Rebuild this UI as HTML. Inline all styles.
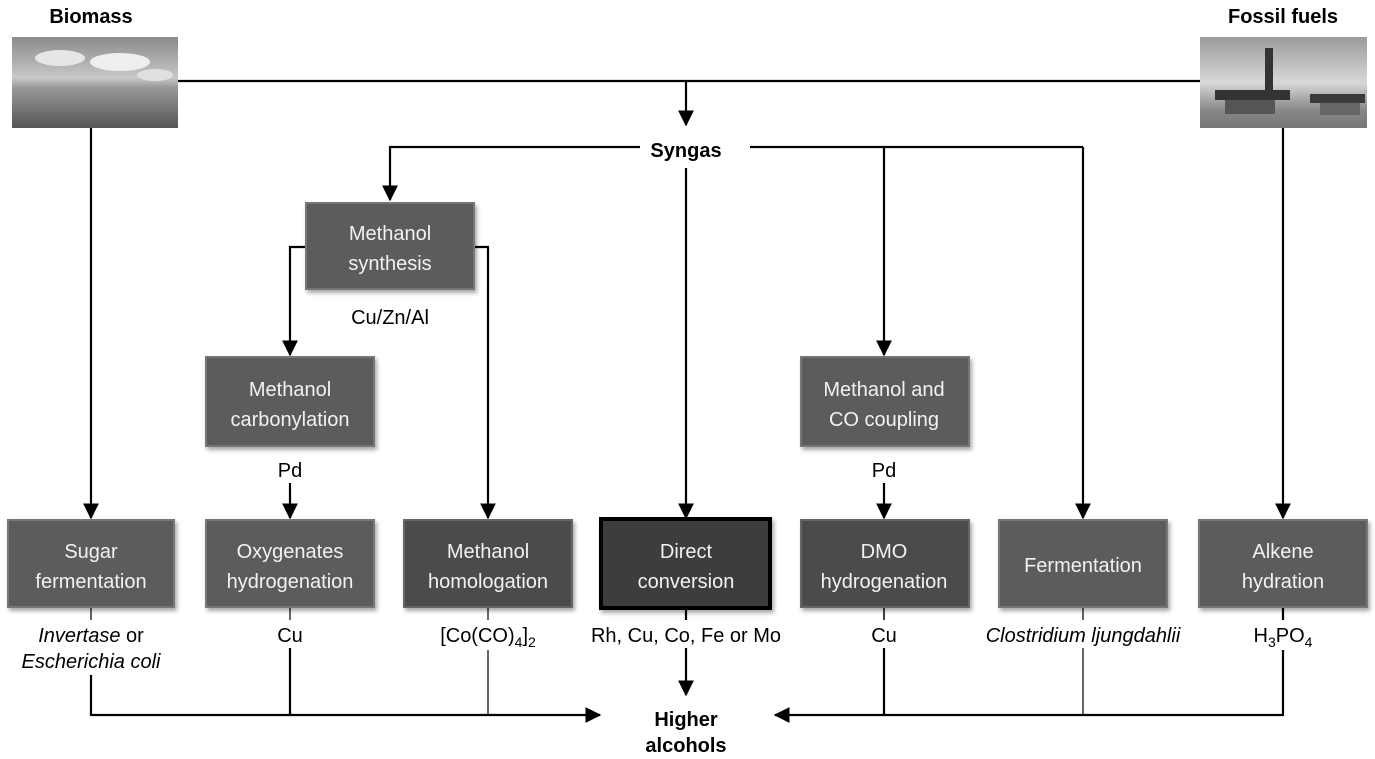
<!DOCTYPE html>
<html><head><meta charset="utf-8"><style>
html,body{margin:0;padding:0;background:#fff;}
svg{display:block;font-family:"Liberation Sans",Arial,sans-serif;}
</style></head><body>
<svg width="1375" height="759" viewBox="0 0 1375 759" xmlns="http://www.w3.org/2000/svg">
<defs>
<marker id="a" viewBox="0 0 12 12" markerWidth="16" markerHeight="16" refX="11" refY="6" orient="auto" markerUnits="userSpaceOnUse"><path d="M0,0 L12,6 L0,12 z" fill="#000"/></marker>
<linearGradient id="sky" x1="0" y1="0" x2="0" y2="1">
<stop offset="0" stop-color="#8a8a8a"/><stop offset="0.45" stop-color="#c8c8c8"/><stop offset="0.55" stop-color="#9a9a9a"/><stop offset="1" stop-color="#555"/></linearGradient>
<linearGradient id="sea" x1="0" y1="0" x2="0" y2="1">
<stop offset="0" stop-color="#9a9a9a"/><stop offset="0.5" stop-color="#d8d8d8"/><stop offset="0.8" stop-color="#888"/><stop offset="1" stop-color="#777"/></linearGradient>
<filter id="sh"><feDropShadow dx="2" dy="3" stdDeviation="2" flood-color="#000" flood-opacity="0.35"/></filter>
</defs>

<rect x="12" y="37" width="166" height="91" fill="url(#sky)"/>
<ellipse cx="60" cy="58" rx="25" ry="8" fill="#e6e6e6"/>
<ellipse cx="120" cy="62" rx="30" ry="9" fill="#eee"/>
<ellipse cx="155" cy="75" rx="18" ry="6" fill="#e0e0e0"/>
<rect x="1200" y="37" width="167" height="91" fill="url(#sea)"/>
<rect x="1215" y="90" width="75" height="10" fill="#333"/>
<rect x="1265" y="48" width="8" height="45" fill="#333"/>
<rect x="1225" y="100" width="50" height="14" fill="#555"/>
<rect x="1310" y="94" width="55" height="9" fill="#3a3a3a"/>
<rect x="1320" y="103" width="40" height="12" fill="#666"/>

<g font-weight="bold" font-size="20" text-anchor="middle" fill="#000">
<text x="91" y="23">Biomass</text>
<text x="1283" y="23">Fossil fuels</text>
<text x="686" y="157">Syngas</text>
<text x="686" y="726">Higher</text>
<text x="686" y="752">alcohols</text>
</g>

<g stroke="#000" stroke-width="2.2" fill="none">
<line x1="178" y1="81" x2="1200" y2="81"/>
<line x1="686" y1="81" x2="686" y2="125" marker-end="url(#a)"/>
<polyline points="640,147 390,147 390,200" marker-end="url(#a)"/>
<line x1="750" y1="147" x2="1083" y2="147"/>
<line x1="686" y1="168" x2="686" y2="518" marker-end="url(#a)"/>
<line x1="884" y1="147" x2="884" y2="355" marker-end="url(#a)"/>
<line x1="1083" y1="147" x2="1083" y2="518" marker-end="url(#a)"/>
<line x1="91" y1="128" x2="91" y2="518" marker-end="url(#a)"/>
<line x1="1283" y1="128" x2="1283" y2="518" marker-end="url(#a)"/>
<polyline points="306,247 290,247 290,355" marker-end="url(#a)"/>
<polyline points="474,247 488,247 488,518" marker-end="url(#a)"/>
<line x1="290" y1="483" x2="290" y2="518" marker-end="url(#a)"/>
<line x1="884" y1="483" x2="884" y2="518" marker-end="url(#a)"/>
<line x1="686" y1="607" x2="686" y2="620"/>
<line x1="686" y1="648" x2="686" y2="695" marker-end="url(#a)"/>
<polyline points="91,675 91,715 600,715" marker-end="url(#a)"/>
<line x1="290" y1="648" x2="290" y2="715"/>
<line x1="488" y1="607" x2="488" y2="620" stroke-width="1.2"/>
<line x1="488" y1="650" x2="488" y2="715" stroke-width="1.2"/>
<polyline points="1283,650 1283,715 775,715" marker-end="url(#a)"/>
<line x1="884" y1="607" x2="884" y2="620" stroke-width="1.5"/>
<line x1="884" y1="648" x2="884" y2="715"/>
<line x1="1083" y1="607" x2="1083" y2="620" stroke-width="1.2"/>
<line x1="1083" y1="648" x2="1083" y2="715" stroke-width="1.2"/>
<line x1="1283" y1="607" x2="1283" y2="620"/>
<line x1="91" y1="607" x2="91" y2="620" stroke-width="1.2"/>
<line x1="290" y1="607" x2="290" y2="620" stroke-width="1.2"/>
</g>

<g filter="url(#sh)">
<rect x="306" y="203" width="168" height="86" fill="#5c5c5c" stroke="#777" stroke-width="2"/>
<rect x="206" y="357" width="168" height="89" fill="#5c5c5c" stroke="#777" stroke-width="2"/>
<rect x="801" y="357" width="168" height="89" fill="#5c5c5c" stroke="#777" stroke-width="2"/>
<rect x="8" y="520" width="166" height="87" fill="#5c5c5c" stroke="#777" stroke-width="2"/>
<rect x="206" y="520" width="168" height="87" fill="#5c5c5c" stroke="#777" stroke-width="2"/>
<rect x="404" y="520" width="168" height="87" fill="#4c4c4c" stroke="#666" stroke-width="2"/>
<rect x="601" y="519" width="169" height="89" fill="#3e3e3e" stroke="#000" stroke-width="4"/>
<rect x="801" y="520" width="168" height="87" fill="#4c4c4c" stroke="#666" stroke-width="2"/>
<rect x="999" y="520" width="168" height="87" fill="#5c5c5c" stroke="#777" stroke-width="2"/>
<rect x="1199" y="520" width="168" height="87" fill="#5c5c5c" stroke="#777" stroke-width="2"/>
</g>

<g fill="#f2f2f2" font-size="20" text-anchor="middle">
<text x="390" y="240">Methanol</text><text x="390" y="270">synthesis</text>
<text x="290" y="396">Methanol</text><text x="290" y="426">carbonylation</text>
<text x="884" y="396">Methanol and</text><text x="884" y="426">CO coupling</text>
<text x="91" y="558">Sugar</text><text x="91" y="588">fermentation</text>
<text x="290" y="558">Oxygenates</text><text x="290" y="588">hydrogenation</text>
<text x="488" y="558">Methanol</text><text x="488" y="588">homologation</text>
<text x="686" y="558">Direct</text><text x="686" y="588">conversion</text>
<text x="884" y="558">DMO</text><text x="884" y="588">hydrogenation</text>
<text x="1083" y="572">Fermentation</text>
<text x="1283" y="558">Alkene</text><text x="1283" y="588">hydration</text>
</g>

<g fill="#000" font-size="20" text-anchor="middle">
<text x="390" y="324">Cu/Zn/Al</text>
<text x="290" y="477">Pd</text>
<text x="884" y="477">Pd</text>
<text x="91" y="642"><tspan font-style="italic">Invertase</tspan> or</text>
<text x="91" y="668" font-style="italic">Escherichia coli</text>
<text x="290" y="642">Cu</text>
<text x="488" y="642">[Co(CO)<tspan font-size="14" dy="5">4</tspan><tspan dy="-5">]</tspan><tspan font-size="14" dy="5">2</tspan></text>
<text x="686" y="642">Rh, Cu, Co, Fe or Mo</text>
<text x="884" y="642">Cu</text>
<text x="1083" y="642" font-style="italic">Clostridium ljungdahlii</text>
<text x="1283" y="642">H<tspan font-size="14" dy="5">3</tspan><tspan dy="-5">PO</tspan><tspan font-size="14" dy="5">4</tspan></text>
</g>
</svg>
</body></html>
